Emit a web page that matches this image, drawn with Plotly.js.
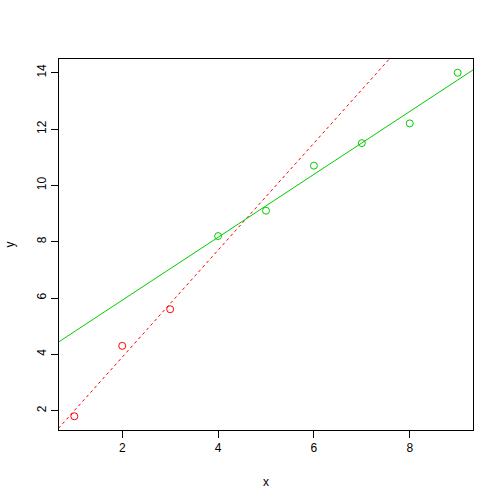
<!DOCTYPE html>
<html>
<head>
<meta charset="utf-8">
<script src="https://cdn.plot.ly/plotly-3.0.1.min.js"></script>
<style>html,body{margin:0;padding:0;background:#fff;}#plot{width:504px;height:504px;}</style>
</head>
<body>
<div id="plot"></div>
<script>
// Data
var redX = [1, 2, 3];
var redY = [1.8, 4.3, 5.6];
var greenX = [4, 5, 6, 7, 8, 9];
var greenY = [8.2, 9.1, 10.7, 11.5, 12.2, 14.0];
// Fitted lines (intercept, slope)
var redLine = [0.1, 1.9];
var greenLine = [3.688, 1.117];
var xTicks = [2, 4, 6, 8];
var yTicks = [2, 4, 6, 8, 10, 12, 14];

var xRange = [0.68, 9.32];
var yRange = [1.312, 14.488];
var lineX = [0, 10];
function abline(c) { return lineX.map(function (x) { return c[0] + c[1] * x; }); }

var RED = '#FF0000', GREEN = '#00CD00';
var font = {family: 'Liberation Sans, Arial, sans-serif', size: 12, color: '#000'};

var traces = [
  {x: lineX, y: abline(redLine), mode: 'lines', line: {color: RED, width: 1, dash: '3px,3px'}, hoverinfo: 'skip'},
  {x: lineX, y: abline(greenLine), mode: 'lines', line: {color: GREEN, width: 1}, hoverinfo: 'skip'},
  {x: redX, y: redY, mode: 'markers', marker: {symbol: 'circle-open', size: 7, color: RED, line: {width: 1, color: RED}}},
  {x: greenX, y: greenY, mode: 'markers', marker: {symbol: 'circle-open', size: 7, color: GREEN, line: {width: 1, color: GREEN}}}
];

var layout = {
  width: 504, height: 504,
  margin: {l: 59, r: 31, t: 59, b: 74},
  paper_bgcolor: '#fff', plot_bgcolor: '#fff',
  showlegend: false,
  font: font,
  xaxis: {
    range: xRange, tickvals: xTicks, ticktext: xTicks.map(String),
    showgrid: false, zeroline: false, showline: true, mirror: true,
    linecolor: '#000', linewidth: 1,
    ticks: 'outside', ticklen: 7, tickcolor: '#000', tickwidth: 1,
    tickfont: font,
    title: {text: 'x', font: font, standoff: 23}
  },
  yaxis: {
    range: yRange, tickvals: yTicks, ticktext: yTicks.map(String),
    showgrid: false, zeroline: false, showline: true, mirror: true,
    linecolor: '#000', linewidth: 1,
    ticks: 'outside', ticklen: 7, tickcolor: '#000', tickwidth: 1,
    tickangle: -90, tickfont: font,
    title: {text: 'y', font: font, standoff: 18}
  }
};

Plotly.newPlot('plot', traces, layout, {staticPlot: true, displayModeBar: false});
</script>
</body>
</html>
